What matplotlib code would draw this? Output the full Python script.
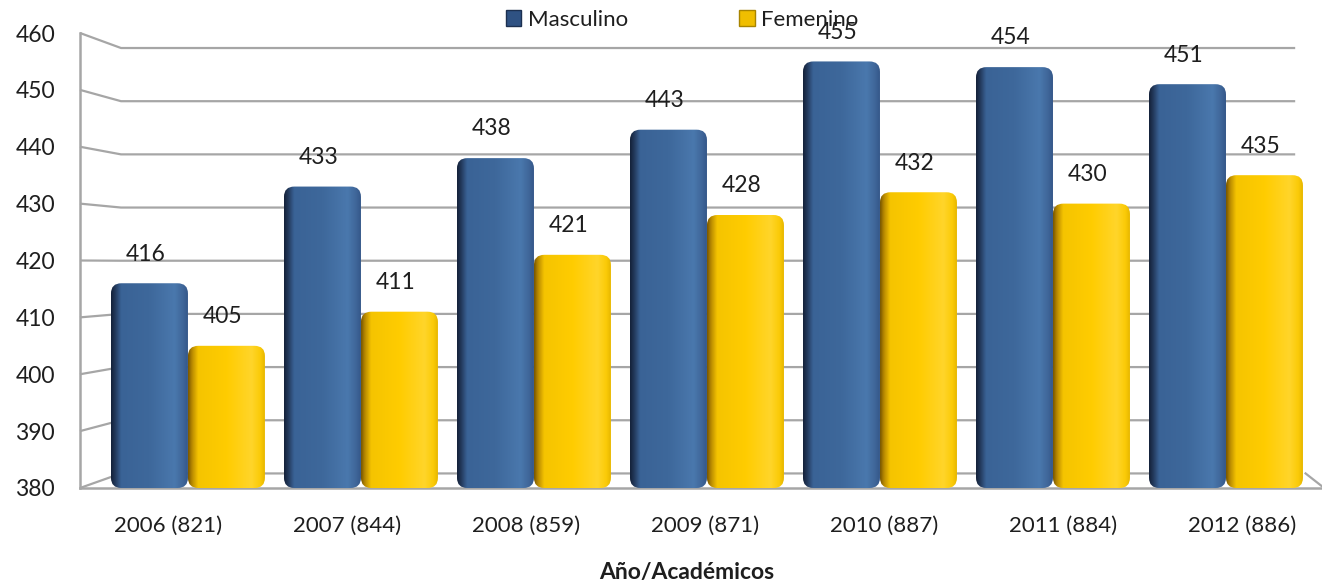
import numpy as np
import matplotlib
matplotlib.use("Agg")
import matplotlib.pyplot as plt
from matplotlib.colors import LinearSegmentedColormap
from matplotlib.patches import FancyBboxPatch, Patch

plt.rcParams["font.family"] = ["Lato", "DejaVu Sans"]

years = ["2006 (821)", "2007 (844)", "2008 (859)", "2009 (871)",
         "2010 (887)", "2011 (884)", "2012 (886)"]
masculino = [416, 433, 438, 443, 455, 454, 451]
femenino = [405, 411, 421, 428, 432, 430, 435]
yticks = [380, 390, 400, 410, 420, 430, 440, 450, 460]

grid_c = "#a6a6a6"
text_c = "#1e1e1e"

blue_cm = LinearSegmentedColormap.from_list("blue", [
    (0.0, "#14223a"), (0.05, "#22385a"), (0.13, "#3a6396"), (0.5, "#3e689b"),
    (0.83, "#4a78ad"), (0.94, "#3f6699"), (1.0, "#35588a")])
yellow_cm = LinearSegmentedColormap.from_list("yellow", [
    (0.0, "#7a5800"), (0.05, "#b98a00"), (0.13, "#f5c400"), (0.5, "#ffcc00"),
    (0.83, "#ffd52a"), (0.94, "#fbcb08"), (1.0, "#e8b800")])

fig = plt.figure(figsize=(13.22, 5.84), dpi=100)
ax = fig.add_axes([80 / 1322, 96 / 584, 1242 / 1322, 455 / 584])

x = np.arange(len(years))
w = 0.445
xl, xr = -0.624, 6.555
ylo, yhi = 380, 460

bars_m = ax.bar(x - w / 2, np.array(masculino) - ylo, w, bottom=ylo, color="#3e689b", zorder=3)
bars_f = ax.bar(x + w / 2, np.array(femenino) - ylo, w, bottom=ylo, color="#ffcc00", zorder=3)

# cylinder-ish shading, clipped to a rounded box
grad = np.linspace(0, 1, 200).reshape(1, -1)
for bars, cm in [(bars_m, blue_cm), (bars_f, yellow_cm)]:
    for r in bars:
        bx, by, bw, bh = r.get_x(), r.get_y(), r.get_width(), r.get_height()
        box = FancyBboxPatch((bx, by), bw, bh,
                             boxstyle="round,pad=0,rounding_size=0.06",
                             mutation_aspect=30, transform=ax.transData,
                             facecolor="none", edgecolor="none")
        ax.add_patch(box)
        im = ax.imshow(grad, cmap=cm, extent=(bx, bx + bw, by, by + bh),
                       aspect="auto", zorder=4, interpolation="bilinear")
        im.set_clip_path(box)
        r.set_visible(False)

# value labels
for bars, vals in [(bars_m, masculino), (bars_f, femenino)]:
    for r, v in zip(bars, vals):
        ax.annotate(str(v), (r.get_x() + r.get_width() / 2, v), xytext=(-3, 21),
                    textcoords="offset points", ha="center", va="center",
                    fontsize=16.5, color=text_c, zorder=6)

# perspective back wall gridlines
xd, xe = -0.387, 6.40
def back(v):
    return 457.36 + (v - 460) * 0.935

for v in yticks:
    ax.plot([xl, xd, xe], [v, back(v), back(v)], color=grid_c, lw=1.6, zorder=1,
            solid_capstyle="butt", clip_on=False)
ax.plot([xe + 0.06, xr], [back(380), 380.3], color=grid_c, lw=1.6, zorder=1, clip_on=False)

ax.set_xlim(xl, xr)
ax.set_ylim(ylo, yhi)
for s in ["top", "right"]:
    ax.spines[s].set_visible(False)
for s in ["left", "bottom"]:
    ax.spines[s].set_color(grid_c)
    ax.spines[s].set_linewidth(1.8)

ax.set_yticks(yticks)
ax.set_yticklabels([str(v) for v in yticks], fontsize=16.5, color=text_c)
# labels sit a bit off the group centres because of the 3d view
ax.set_xticks(-0.116 + x * 1.035)
ax.set_xticklabels(years, fontsize=16, color=text_c)
ax.tick_params(axis="y", length=0, pad=18)
ax.tick_params(axis="x", length=0, pad=20)

fig.text(687 / 1322, 1 - 572 / 584, "Año/Académicos", ha="center", va="center",
         fontsize=16.5, fontweight="bold", color=text_c)

handles = [Patch(facecolor="#2f5283", edgecolor="#1c3050", label="Masculino"),
           Patch(facecolor="#f0be00", edgecolor="#a88400", label="Femenino")]
fig.legend(handles=handles, loc="center", bbox_to_anchor=(0.516, 1 - 20 / 584),
           ncol=2, frameon=False, fontsize=16, handlelength=0.7, handleheight=0.7,
           handletextpad=0.3, columnspacing=5.0, labelcolor=text_c)

fig.savefig("out.png", dpi=100)
